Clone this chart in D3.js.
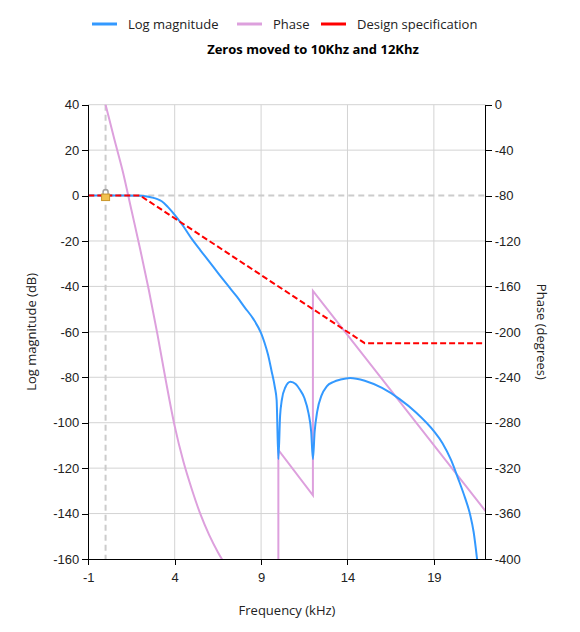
<!DOCTYPE html>
<html lang="en">
<head>
<meta charset="UTF-8">
<title>Zeros moved to 10Khz and 12Khz</title>
<style>
    body { margin: 0; background: #ffffff; }
    svg { display: block; font-family: "Open Sans", "Noto Sans", sans-serif; }
    .grid line { stroke: #d3d3d3; stroke-width: 1; }
    .axis path, .axis line { stroke: #000; shape-rendering: crispEdges; }
    .axis text { font-size: 13px; fill: #222; }
</style>
</head>
<body>
<script src="https://d3js.org/d3.v7.min.js"></script>
<script>
    // frequency response
    var magFreq = [-1, 0, 1, 2, 2.4, 2.7, 3, 3.25, 3.6, 4, 4.5, 5, 5.5, 6, 6.6, 7.1, 7.6, 8.05, 8.55, 9, 9.2, 9.4, 9.6, 9.8, 9.9, 10,
                   10.1, 10.2, 10.4, 10.7, 11, 11.25, 11.5, 11.75, 11.9, 12, 12.1, 12.25, 12.5, 12.8, 13.2, 13.6,
                   14.15, 15, 16, 17, 18, 19, 19.5, 20, 20.4, 20.8, 21.1, 21.3, 21.5];
    var magDb   = [0, 0, 0, -0.1, -0.4, -0.9, -1.6, -2.5, -5, -8.5, -13.5, -19.2, -24.2, -29.1, -35, -39.8, -44.5, -49.2, -54.3, -60.6,
                   -64.8, -70, -77, -84.5, -90, -116,
                   -97, -90, -84.5, -82, -83, -85.5, -89, -96, -104, -116, -104, -95, -88, -84, -82, -81,
                   -80.3, -81.5, -84.7, -89.5, -95.7, -103.7, -109, -116.5, -124.5, -133, -140.5, -148, -160];

    var phaseFreq = [-1, 0, 0.5, 1, 1.5, 2, 2.5, 3, 3.5, 4, 4.5, 5, 5.5, 6, 6.5, 7, 8, 9, 10, 10, 12, 12, 22];
    var phaseDeg  = [60, 0, -30, -59, -93, -127, -163, -202, -244, -283, -314, -339, -361, -379, -394, -407, -438, -462, -484,
                     -304, -344, -164, -358];

    var specFreq = [-1, 2, 15, 22];
    var specDb   = [0, 0, -65, -65];

    var xTicks = [-1, 4, 9, 14, 19];
    var yTicks = [40, 20, 0, -20, -40, -60, -80, -100, -120, -140, -160];
    var y2Ticks = [0, -40, -80, -120, -160, -200, -240, -280, -320, -360, -400];

    var legendItems = ["Log magnitude", "Phase", "Design specification"];
    var legendColors = ["#3399ff", "#dda0dd", "#ff0000"];

    var width = 580, height = 632;
    var margin = {top: 104.7, right: 94.3, bottom: 73, left: 88.3};
    var w = width - margin.left - margin.right,
        h = height - margin.top - margin.bottom;

    var svg = d3.select("body").append("svg")
        .attr("width", width)
        .attr("height", height);

    var x = d3.scaleLinear().domain([-1, 22]).range([0, w]);
    var y = d3.scaleLinear().domain([-160, 40]).range([h, 0]);
    var y2 = d3.scaleLinear().domain([-400, 0]).range([h, 0]);

    var g = svg.append("g")
        .attr("transform", "translate(" + margin.left + "," + margin.top + ")");

    svg.append("defs").append("clipPath").attr("id", "plotClip")
        .append("rect").attr("x", 0).attr("y", 0).attr("width", w).attr("height", h);

    // grid
    g.append("g").attr("class", "grid")
        .selectAll("line").data(xTicks.slice(1)).enter().append("line")
        .attr("x1", d => x(d)).attr("x2", d => x(d))
        .attr("y1", 0).attr("y2", h);
    g.append("g").attr("class", "grid")
        .selectAll("line").data(yTicks.filter(d => d != -160 && d != 0)).enter().append("line")
        .attr("x1", 0).attr("x2", w)
        .attr("y1", d => y(d)).attr("y2", d => y(d));

    // reference cursors
    g.append("line")
        .attr("x1", 0).attr("x2", w).attr("y1", y(0)).attr("y2", y(0))
        .attr("stroke", "#cccccc").attr("stroke-width", 2).attr("stroke-dasharray", "6,4");
    g.append("line")
        .attr("x1", x(0)).attr("x2", x(0)).attr("y1", 0).attr("y2", h)
        .attr("stroke", "#cccccc").attr("stroke-width", 2).attr("stroke-dasharray", "6,4");

    var plot = g.append("g").attr("clip-path", "url(#plotClip)");

    // phase wraps at the zeros: smooth each piece, join the pieces with vertical jumps
    var phasePts = phaseFreq.map((f, i) => [f, phaseDeg[i]]);
    var pieces = [[phasePts[0]]];
    for (var i = 1; i < phasePts.length; i++) {
        if (phasePts[i][0] == phasePts[i - 1][0]) pieces.push([]);
        pieces[pieces.length - 1].push(phasePts[i]);
    }
    var phaseLine = d3.line()
        .x(d => x(d[0]))
        .y(d => y2(d[1]))
        .curve(d3.curveMonotoneX);
    var phaseD = pieces.map((p, k) => {
        var s = phaseLine(p);
        return k > 0 ? "L" + s.slice(1) : s;
    }).join("");
    plot.append("path")
        .attr("fill", "none")
        .attr("stroke", "#dda0dd")
        .attr("stroke-width", 2)
        .attr("d", phaseD);

    var magLine = d3.line()
        .x((d, i) => x(magFreq[i]))
        .y(d => y(d))
        .curve(d3.curveMonotoneX);
    plot.append("path")
        .datum(magDb)
        .attr("fill", "none")
        .attr("stroke", "#3399ff")
        .attr("stroke-width", 2)
        .attr("d", magLine);

    var specLine = d3.line()
        .x((d, i) => x(specFreq[i]))
        .y(d => y(d));
    plot.append("path")
        .datum(specDb)
        .attr("fill", "none")
        .attr("stroke", "#ff0000")
        .attr("stroke-width", 2)
        .attr("stroke-dasharray", "6,3")
        .attr("d", specLine);

    // little padlock on the cursor crossing
    var lock = g.append("g")
        .attr("transform", "translate(" + x(0) + "," + y(0) + ")");
    lock.append("path")
        .attr("d", "M-2.5,-1 V-3.5 A2.5,2.5 0 0 1 2.5,-3.5 V-1")
        .attr("fill", "none").attr("stroke", "#a0a0a0").attr("stroke-width", 1.5);
    lock.append("rect")
        .attr("x", -4).attr("y", -1.5).attr("width", 8).attr("height", 6.5)
        .attr("fill", "#f2c14e").attr("stroke", "#c9962a").attr("stroke-width", 1);

    // axes
    var fmt = d => String(d);
    g.append("g").attr("class", "axis")
        .attr("transform", "translate(0," + h + ")")
        .call(d3.axisBottom(x).tickValues(xTicks).tickFormat(fmt).tickSize(6).tickSizeOuter(0).tickPadding(8))
        .call(a => a.select(".domain").attr("d", "M0,0H" + w));

    g.append("g").attr("class", "axis")
        .call(d3.axisLeft(y).tickValues(yTicks).tickFormat(fmt).tickSize(6).tickSizeOuter(0).tickPadding(3))
        .call(a => a.select(".domain").attr("d", "M0,0V" + h));

    g.append("g").attr("class", "axis")
        .attr("transform", "translate(" + w + ",0)")
        .call(d3.axisRight(y2).tickValues(y2Ticks).tickFormat(fmt).tickSize(6).tickSizeOuter(0).tickPadding(3))
        .call(a => a.select(".domain").attr("d", "M0,0V" + h));

    // axis titles
    svg.append("text")
        .attr("x", 287).attr("y", 615)
        .attr("text-anchor", "middle")
        .attr("font-size", 13).attr("fill", "#222")
        .text("Frequency (kHz)");

    svg.append("text")
        .attr("transform", "translate(36," + (margin.top + h / 2) + ") rotate(-90)")
        .attr("text-anchor", "middle")
        .attr("font-size", 13).attr("fill", "#222")
        .text("Log magnitude (dB)");

    svg.append("text")
        .attr("transform", "translate(537," + (margin.top + h / 2) + ") rotate(90)")
        .attr("text-anchor", "middle")
        .attr("font-size", 13).attr("fill", "#222")
        .text("Phase (degrees)");

    // title
    svg.append("text")
        .attr("x", 313).attr("y", 54)
        .attr("text-anchor", "middle")
        .attr("font-size", 13).attr("font-weight", "bold").attr("fill", "#000")
        .text("Zeros moved to 10Khz and 12Khz");

    // legend
    var legendX = [92, 237, 321];
    var legend = svg.append("g").selectAll("g")
        .data(legendItems).enter().append("g")
        .attr("transform", (d, i) => "translate(" + legendX[i] + ",24)");
    legend.append("line")
        .attr("x1", 0).attr("x2", 25).attr("y1", 0).attr("y2", 0)
        .attr("stroke", (d, i) => legendColors[i]).attr("stroke-width", 3);
    legend.append("text")
        .attr("x", 36).attr("y", 4.5)
        .attr("font-size", 13).attr("fill", "#222")
        .text(d => d);
</script>
</body>
</html>
